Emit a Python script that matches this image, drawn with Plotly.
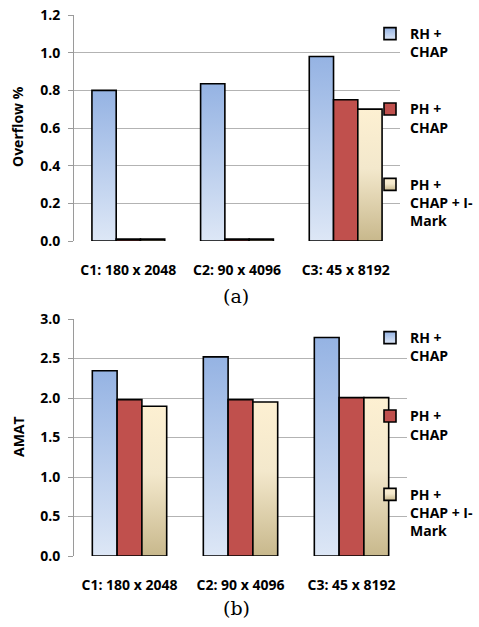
import plotly.graph_objects as go

categories = ["C1: 180 x 2048", "C2: 90 x 4096", "C3: 45 x 8192"]
series_names = ["RH +<br>CHAP", "PH +<br>CHAP", "PH +<br>CHAP + I-<br>Mark"]

overflow_rh = [0.80, 0.835, 0.98]
overflow_ph = [0.01, 0.01, 0.75]
overflow_im = [0.01, 0.01, 0.70]

amat_rh = [2.345, 2.52, 2.765]
amat_ph = [1.98, 1.98, 2.005]
amat_im = [1.895, 1.95, 2.005]

overflow_ticks = [0.0, 0.2, 0.4, 0.6, 0.8, 1.0, 1.2]
amat_ticks = [0.0, 0.5, 1.0, 1.5, 2.0, 2.5, 3.0]

# base colours (replaced by gradients in the page)
c_rh = "rgb(149, 179, 227)"
c_ph = "rgb(192, 80, 77)"
c_im = "rgb(245, 230, 190)"
colors = [c_rh, c_ph, c_im]

W, H = 479, 627
FONT = "Open Sans"

fig = go.Figure()

top_data = [overflow_rh, overflow_ph, overflow_im]
bot_data = [amat_rh, amat_ph, amat_im]

for i, (name, vals) in enumerate(zip(series_names, top_data)):
    fig.add_trace(go.Bar(
        x=categories, y=vals, name=name, xaxis="x", yaxis="y",
        marker=dict(color=colors[i], line=dict(color="black", width=1.6)),
        legend="legend", legendgroup="t%d" % i,
    ))
for i, (name, vals) in enumerate(zip(series_names, bot_data)):
    fig.add_trace(go.Bar(
        x=categories, y=vals, name=name, xaxis="x2", yaxis="y2",
        marker=dict(color=colors[i], line=dict(color="black", width=1.6)),
        legend="legend2", legendgroup="b%d" % i,
    ))

def px_x(p):
    return p / W

def px_y(p):
    return 1 - p / H

bold14 = dict(family=FONT, size=14, color="black", weight="bold")

axis_common = dict(
    showgrid=True, gridcolor="#b3b3b3", gridwidth=1,
    showline=True, linecolor="#9a9a9a", linewidth=1,
    ticks="outside", ticklen=5, tickcolor="#9a9a9a",
    tickfont=bold14, ticklabeloverflow="allow",
    zeroline=False, tickformat=".1f", ticklabelstandoff=5,
    automargin=False,
)
xaxis_common = dict(
    showgrid=False, showline=False, ticks="",
    tickfont=bold14, ticklabeloverflow="allow",
    ticklabelstandoff=19, automargin=False,
)

fig.update_layout(
    width=W, height=H,
    margin=dict(l=0, r=0, t=0, b=0),
    paper_bgcolor="white", plot_bgcolor="white",
    barmode="group", bargap=0.33, bargroupgap=0,
    showlegend=True,
    xaxis=dict(domain=[px_x(74), px_x(400)], anchor="y", **xaxis_common),
    yaxis=dict(domain=[px_y(241), px_y(15)], anchor="x", range=[0, 1.2],
               tickvals=overflow_ticks, **axis_common),
    xaxis2=dict(domain=[px_x(74), px_x(407)], anchor="y2", **xaxis_common),
    yaxis2=dict(domain=[px_y(556), px_y(319)], anchor="x2", range=[0, 3.0],
                tickvals=amat_ticks, **axis_common),
    legend=dict(x=px_x(370), y=px_y(18), xanchor="left", yanchor="top",
                valign="top", bgcolor="rgba(0,0,0,0)", tracegroupgap=36,
                traceorder="grouped", font=bold14),
    legend2=dict(x=px_x(370), y=px_y(322), xanchor="left", yanchor="top",
                 valign="top", bgcolor="rgba(0,0,0,0)", tracegroupgap=39,
                 traceorder="grouped", font=bold14),
    annotations=[
        dict(text="Overflow %", x=px_x(18), y=px_y(127), xref="paper", yref="paper",
             xanchor="center", yanchor="middle",
             textangle=-90, showarrow=False, font=bold14),
        dict(text="AMAT", x=px_x(18), y=px_y(437), xref="paper", yref="paper",
             xanchor="center", yanchor="middle",
             textangle=-90, showarrow=False, font=bold14),
        dict(text="(a)", x=px_x(236), y=px_y(296), xref="paper", yref="paper",
             xanchor="center", yanchor="middle", showarrow=False,
             font=dict(family="DejaVu Serif", size=19, color="black")),
        dict(text="(b)", x=px_x(236), y=px_y(608), xref="paper", yref="paper",
             xanchor="center", yanchor="middle", showarrow=False,
             font=dict(family="DejaVu Serif", size=19, color="black")),
    ],
)

post = """
document.body.style.margin = '0';
document.documentElement.style.margin = '0';
var gd = document.getElementById('{plot_id}');
var svg = gd.querySelector('.main-svg');
var ns = 'http://www.w3.org/2000/svg';
var defs = svg.querySelector('defs');
if (!defs) { defs = document.createElementNS(ns, 'defs'); svg.insertBefore(defs, svg.firstChild); }
function grad(id, stops) {
  var g = document.createElementNS(ns, 'linearGradient');
  g.setAttribute('id', id);
  g.setAttribute('x1', '0'); g.setAttribute('y1', '0');
  g.setAttribute('x2', '0'); g.setAttribute('y2', '1');
  stops.forEach(function(s) {
    var st = document.createElementNS(ns, 'stop');
    st.setAttribute('offset', s[0]);
    st.setAttribute('stop-color', s[1]);
    g.appendChild(st);
  });
  defs.appendChild(g);
}
grad('gRH', [['0', '#95b3e3'], ['1', '#dde7f6']]);
grad('gIM', [['0', '#fdf0d2'], ['0.45', '#f3e8cc'], ['1', '#c8b88c']]);
var map = {'rgb(149, 179, 227)': 'url(#gRH)', 'rgb(245, 230, 190)': 'url(#gIM)'};
gd.querySelectorAll('path').forEach(function(p) {
  var f = p.style.fill;
  if (map[f]) { p.style.fill = map[f]; }
});
"""

fig.write_html("out.html", post_script=post,
               config={"displayModeBar": False, "staticPlot": True})
